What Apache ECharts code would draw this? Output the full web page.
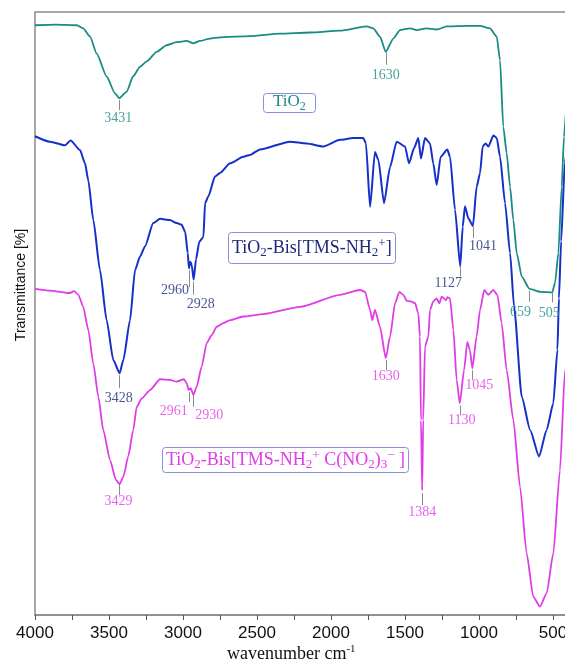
<!DOCTYPE html>
<html><head><meta charset="utf-8">
<script src="https://cdn.jsdelivr.net/npm/echarts@6/dist/echarts.min.js"></script>
<style>html,body{margin:0;padding:0;background:#fff}#c{width:565px;height:659px}</style>
</head><body><div id="c"></div><script>
// FT-IR spectra: [wavenumber cm^-1, transmittance (offset, arbitrary %)]
const tio2 = [[4000,97.8],[3860,97.9],[3718,97.8],[3674,97.3],[3628,95.9],[3583,93.1],[3516,89.3],[3459,86.5],[3431,85.7],[3380,86.8],[3338,89.3],[3291,90.9],[3245,91.8],[3178,93.4],[3110,94.5],[3043,95.0],[2975,95.2],[2930,94.8],[2885,95.2],[2818,95.6],[2750,95.8],[2547,96.0],[2345,96.4],[2142,96.6],[1939,96.9],[1759,97.6],[1714,97.3],[1669,95.9],[1630,93.4],[1579,95.6],[1534,97.0],[1466,97.3],[1421,97.0],[1353,97.3],[1286,97.1],[1218,97.6],[1083,97.7],[993,97.7],[926,97.3],[880,95.9],[858,92.0],[836,81.0],[813,76.6],[790,71.0],[768,65.5],[745,60.0],[711,56.1],[659,54.1],[584,53.6],[505,53.5],[486,55.1],[464,60.0],[441,71.0],[426,79.3],[405,85.4],[385,92.0]];

const tmsNH2 = [[4000,79.4],[3899,78.5],[3797,77.9],[3759,78.7],[3696,77.1],[3662,74.9],[3640,72.1],[3606,65.5],[3561,57.2],[3516,48.9],[3471,42.3],[3428,40.1],[3403,42.3],[3358,48.9],[3324,57.2],[3291,59.4],[3257,61.1],[3201,65.0],[3155,65.7],[3088,65.5],[3043,65.0],[3009,64.7],[2985,63.5],[2968,60.0],[2960,57.5],[2950,58.6],[2941,58.0],[2928,55.6],[2912,59.0],[2890,61.9],[2862,62.7],[2851,68.3],[2829,69.4],[2784,72.7],[2750,73.3],[2682,74.9],[2592,76.0],[2547,76.3],[2480,77.2],[2277,78.5],[2164,78.2],[2052,77.7],[1939,78.8],[1849,79.1],[1782,79.1],[1764,78.2],[1736,67.7],[1703,76.8],[1680,75.5],[1642,68.3],[1601,74.3],[1556,78.5],[1500,77.7],[1473,74.9],[1439,77.4],[1410,79.1],[1392,75.7],[1365,79.1],[1331,78.2],[1309,74.9],[1286,71.3],[1259,76.0],[1214,77.2],[1196,76.0],[1162,67.2],[1127,57.8],[1110,64.4],[1095,67.8],[1072,65.8],[1041,64.5],[1016,71.0],[993,73.3],[975,77.7],[955,78.2],[937,77.7],[903,79.5],[880,79.1],[858,76.0],[824,68.3],[790,60.0],[763,51.1],[711,36.2],[655,30.7],[594,26.3],[543,30.7],[498,35.1],[470,44.0],[460,52.5],[445,62.0],[420,75.0],[395,80.0]];

const tmsNitroform = [[4000,54.1],[3899,53.8],[3764,53.4],[3736,53.7],[3707,53.1],[3674,51.1],[3640,47.3],[3606,41.7],[3572,36.2],[3539,30.7],[3493,25.7],[3453,22.4],[3429,21.7],[3403,22.9],[3370,26.3],[3336,30.7],[3313,34.5],[3279,35.9],[3223,37.3],[3155,39.1],[3088,39.0],[3043,38.7],[2993,39.1],[2975,38.4],[2961,37.3],[2948,37.6],[2930,36.5],[2907,37.9],[2874,41.2],[2840,45.1],[2806,46.4],[2772,47.8],[2728,48.4],[2682,48.9],[2593,49.5],[2457,49.9],[2209,51.1],[1939,53.1],[1804,53.9],[1770,53.6],[1736,50.6],[1721,48.9],[1703,50.6],[1669,47.8],[1630,42.6],[1601,46.2],[1567,51.7],[1538,53.6],[1511,53.1],[1488,52.1],[1461,52.0],[1432,51.7],[1410,50.0],[1399,46.2],[1392,32.3],[1384,20.7],[1377,32.3],[1365,44.5],[1342,46.2],[1331,50.6],[1309,52.0],[1286,52.5],[1268,51.7],[1252,52.8],[1223,52.2],[1214,52.7],[1196,52.5],[1173,47.3],[1151,39.0],[1130,35.1],[1101,40.6],[1079,45.3],[1061,43.9],[1045,40.9],[1016,46.2],[993,50.6],[964,53.9],[937,53.1],[903,53.9],[876,53.1],[847,48.4],[813,40.6],[768,32.3],[723,21.3],[678,10.2],[633,3.0],[588,1.4],[543,3.6],[498,10.2],[453,24.0],[419,40.6],[385,55.6]];

// Assigned bands (wavenumbers) for each spectrum
const tio2Peaks = [3431, 1630, 659, 505];
const tmsNH2Peaks = [3428, 2960, 2928, 1127, 1041];
const tmsNitroformPeaks = [3429, 2961, 2930, 1630, 1384, 1130, 1045];

// Axis ticks
const xTicks = [4000, 3500, 3000, 2500, 2000, 1500, 1000, 500];

const TEAL = '#1a8a84', BLUE = '#1530c8', NAVY = '#1d2a78', MAGENTA = '#e03ce6';
const GRID = {left: 35, right: -62, top: 12, bottom: 44};
const H = 659;
const UNIT_PX = (H - GRID.top - GRID.bottom) / 100;

// Marker layout (px): gap below the band, tick length, label offset from tick end
const markerLayout = {
  tio2: {3431:{gap:2,len:10,dx:-1,dy:8}, 1630:{gap:1,len:12,dx:0,dy:11}, 659:{gap:2,len:11,dx:-9,dy:11}, 505:{gap:0,len:10,dx:-3,dy:11}},
  nh2: {3428:{gap:2,len:13,dx:-1,dy:10}, 2960:{gap:2,len:17,dx:-14,dy:3}, 2928:{gap:2,len:13,dx:7,dy:10}, 1127:{gap:0,len:10,dx:-12,dy:7}, 1041:{gap:1,len:11,dx:10,dy:8}},
  nitro: {3429:{gap:0,len:11,dx:-1,dy:6}, 2961:{gap:2,len:10,dx:-15,dy:9}, 2930:{gap:0,len:12,dx:16,dy:8}, 1630:{gap:2,len:10,dx:0,dy:6}, 1384:{gap:3,len:12,dx:0,dy:7}, 1130:{gap:2,len:10,dx:2,dy:5}, 1045:{gap:2,len:10,dx:7,dy:5}}
};

function valueAt(curve, w) { return curve.find(p => p[0] === w)[1]; }

function spectrum(name, data, color, width) {
  return {type: 'line', name, data, showSymbol: false, symbol: 'none', smooth: 0.2, smoothMonotone: 'x',
    lineStyle: {color, width}, silent: true, animation: false, z: 3};
}

function bandMarkers(name, curve, peaks, layout, color) {
  const data = [], lines = [];
  peaks.forEach(w => {
    const v = valueAt(curve, w), L = layout[w];
    const v1 = v - L.gap / UNIT_PX, v2 = v - (L.gap + L.len) / UNIT_PX;
    lines.push([{coord: [w, v1]}, {coord: [w, v2]}]);
    data.push({value: [w, v2], label: {offset: [L.dx, L.dy]}});
  });
  return {type: 'scatter', name, data, symbolSize: 1, itemStyle: {color: 'rgba(0,0,0,0)'}, silent: true, animation: false, z: 5,
    label: {show: true, position: 'inside', formatter: p => String(p.value[0]), color, fontFamily: 'Liberation Serif', fontSize: 14},
    markLine: {silent: true, animation: false, symbol: ['none', 'none'], label: {show: false},
      lineStyle: {color: '#8a8a8a', width: 1, type: 'solid'}, emphasis: {disabled: true}, data: lines}
  };
}

function richFor(color, size) {
  const base = {fontFamily: 'Liberation Serif', fontWeight: 'normal', color};
  const small = Math.round(size * 0.7);
  return {
    t: Object.assign({fontSize: size, lineHeight: 22, verticalAlign: 'middle'}, base),
    s: Object.assign({fontSize: small, lineHeight: small, verticalAlign: 'bottom'}, base),
    p: Object.assign({fontSize: small, lineHeight: small, verticalAlign: 'top'}, base)
  };
}
const boxStyle = {borderColor: '#8a8fdc', borderWidth: 1, borderRadius: 3, backgroundColor: '#fff'};

const chart = echarts.init(document.getElementById('c'), null, {renderer: 'canvas'});
chart.setOption({
  backgroundColor: '#fff',
  animation: false,
  grid: Object.assign({show: true, borderColor: '#8a8a8a', borderWidth: 1.5, containLabel: false, outerBoundsMode: 'none'}, GRID),
  title: [
    Object.assign({text: '{t|TiO}{s|2}', left: 263, top: 91, padding: [0, 10], textStyle: {fontWeight: 'normal', rich: richFor(TEAL, 17)}}, boxStyle),
    Object.assign({text: '{t|TiO}{s|2}{t|-Bis[TMS-NH}{s|2}{p|+}{t|]}', left: 228, top: 232, padding: [5, 4], textStyle: {fontWeight: 'normal', rich: richFor(NAVY, 18)}}, boxStyle),
    Object.assign({text: '{t|TiO}{s|2}{t|-Bis[TMS-NH}{s|2}{p|+}{t| C(NO}{s|2}{t|)}{s|3}{p|\u2212}{t| ]}', left: 162, top: 447, padding: [2, 4], textStyle: {fontWeight: 'normal', rich: richFor(MAGENTA, 18)}}, boxStyle),
    {text: '{a|wavenumber cm}{b|-1}', left: 227, top: 644, padding: 0, textStyle: {fontWeight: 'normal', rich: {
      a: {fontFamily: 'Liberation Serif', fontWeight: 'normal', fontSize: 18, color: '#111', lineHeight: 20, verticalAlign: 'middle'},
      b: {fontFamily: 'Liberation Serif', fontWeight: 'normal', fontSize: 11, color: '#111', lineHeight: 11, verticalAlign: 'top'}}}}
  ],
  graphic: [{type: 'text', x: 21, y: 285, rotation: Math.PI / 2, silent: true,
    style: {text: 'Transmittance [%]', font: '14px "Liberation Sans"', fill: '#111', align: 'center', verticalAlign: 'middle'}}],
  xAxis: {
    type: 'value', inverse: true, min: 0, max: 4000, interval: 500,
    axisLine: {show: true, onZero: false, lineStyle: {color: '#8a8a8a', width: 1.5}},
    axisTick: {show: true, inside: false, length: 5, lineStyle: {color: '#555', width: 1}},
    minorTick: {show: true, splitNumber: 2, length: 5, lineStyle: {color: '#555', width: 1}},
    splitLine: {show: false},
    axisLabel: {margin: 10, color: '#111', fontFamily: 'Liberation Sans', fontSize: 17,
      formatter: v => xTicks.includes(v) ? String(v) : ''}
  },
  yAxis: {
    type: 'value', min: 0, max: 100,
    axisLine: {show: true, lineStyle: {color: '#8a8a8a', width: 1.5}},
    axisTick: {show: false}, axisLabel: {show: false}, splitLine: {show: false}
  },
  series: [
    spectrum('TiO2', tio2, TEAL, 1.8),
    spectrum('TiO2-Bis[TMS-NH2+]', tmsNH2, BLUE, 2),
    spectrum('TiO2-Bis[TMS-NH2+ C(NO2)3-]', tmsNitroform, MAGENTA, 1.8),
    bandMarkers('TiO2 bands', tio2, tio2Peaks, markerLayout.tio2, TEAL),
    bandMarkers('NH2 bands', tmsNH2, tmsNH2Peaks, markerLayout.nh2, NAVY),
    bandMarkers('nitroform bands', tmsNitroform, tmsNitroformPeaks, markerLayout.nitro, MAGENTA)
  ]
});
</script></body></html>
